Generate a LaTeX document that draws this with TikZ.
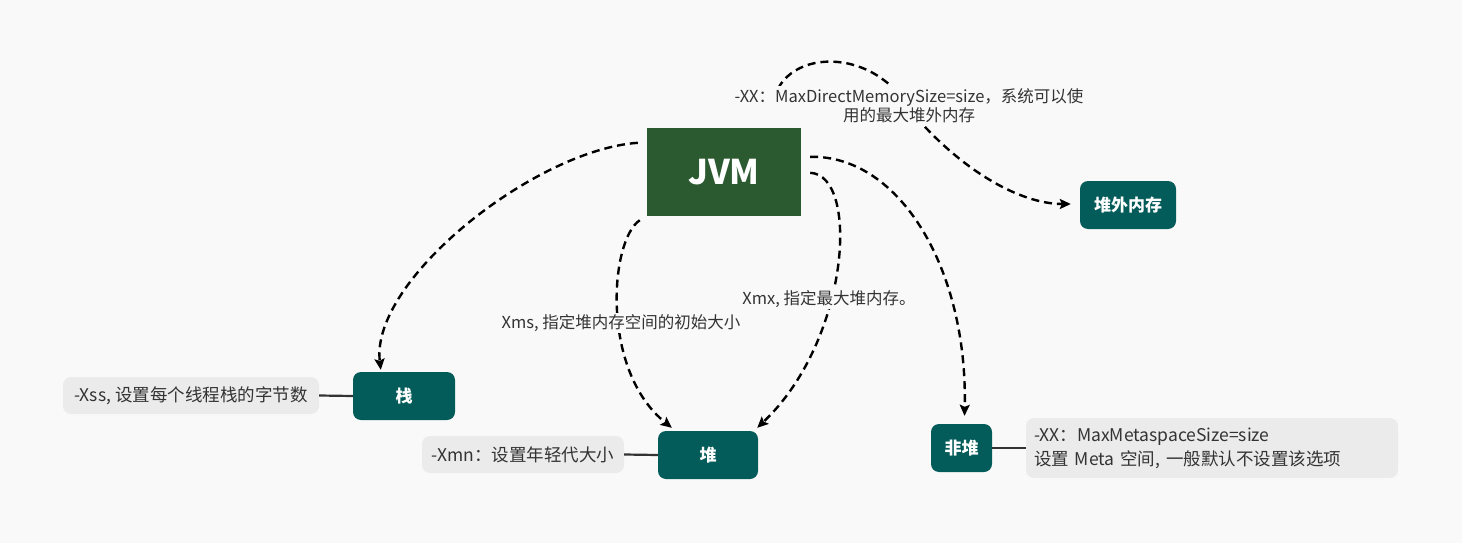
\documentclass[tikz,border=0pt]{standalone}
\usepackage{fontspec}
\setmainfont{Noto Sans CJK SC}
\usetikzlibrary{arrows.meta,calc}
\definecolor{bg}{HTML}{F9F9F9}
\definecolor{jvmgreen}{HTML}{2B5A30}
\definecolor{teal}{HTML}{035C5A}
\definecolor{notebg}{HTML}{EBEBEB}
\definecolor{txt}{HTML}{333333}
\tikzset{
  box/.style={fill=teal, rounded corners=8pt, text=white, font=\fontsize{17}{20}\selectfont\bfseries, inner sep=0pt, minimum height=48pt},
  note/.style={fill=notebg, rounded corners=8pt, text=txt, font=\fontsize{17.5}{24}\selectfont, inner sep=0pt, minimum height=37pt},
  edge/.style={draw=black, line width=2.4pt, dash pattern=on 8pt off 5pt, -{Stealth[length=11pt,width=10pt,inset=2pt]}},
  conn/.style={draw=txt, line width=2.2pt},
  elabel/.style={fill=bg, text=txt, font=\fontsize{16.5}{19}\selectfont, inner sep=1pt}
}
\begin{document}
\begin{tikzpicture}[x=1pt,y=-1pt]
\fill[bg] (0,0) rectangle (1462,543);
\useasboundingbox (0,0) rectangle (1462,543);

\node[fill=jvmgreen, minimum width=154pt, minimum height=88pt, inner sep=0pt, text=white, font=\fontsize{34}{36}\selectfont\bfseries] (jvm) at (724,172) {JVM};
\node[box, minimum width=96pt] (offheap) at (1128,205) {堆外内存};
\node[box, minimum width=102pt] (stack) at (404,396) {栈};
\node[box, minimum width=100pt] (heap) at (708,455) {堆};
\node[box, minimum width=61pt] (nonheap) at (961.5,448) {非堆};

\node[note, minimum width=256pt] (nxss) at (191,395.5) {-Xss, 设置每个线程栈的字节数};
\node[note, minimum width=202pt] (nxmn) at (523,454.5) {-Xmn：设置年轻代大小};
\node[note, minimum width=372pt, minimum height=60pt, text width=356pt, align=left] (nmeta) at (1212,448) {-XX：MaxMetaspaceSize=size\\设置 Meta 空间, 一般默认不设置该选项};

\draw[conn] (nxss.east) -- (stack.west);
\draw[conn] (nxmn.east) -- (heap.west);
\draw[conn] (nonheap.east) -- (nmeta.west);

% JVM -> stack
\draw[edge] ($(jvm.north west)+(-9,15)$) .. controls (535,150) and (370,280) .. ($(stack.north west)+(28,-2)$);
% JVM -> heap (Xms)
\draw[edge] ($(jvm.south west)+(-7,4)$) .. controls (610,240) and (600,370) .. ($(heap.north west)+(14,-3)$);
% JVM -> heap (Xmx)
\draw[edge] ($(jvm.north east)+(9,45)$) .. controls (860,175) and (850,340) .. ($(heap.north east)+(-1,-3)$);
% JVM -> nonheap
\draw[edge] ($(jvm.north east)+(9,29)$) .. controls (900,155) and (968,270) .. ($(nonheap.north)+(3,-8)$);
% JVM -> offheap
\draw[edge] ($(jvm.north west)+(126,-14)$) .. controls (770,50) and (870,40) .. (910,110) .. controls (960,170) and (1020,204) .. ($(offheap.west)+(-9,-1)$);

\node[elabel, align=center, inner ysep=3pt, inner xsep=2pt] (lblDirect) at (909,106) {-XX：MaxDirectMemorySize=size，系统可以使\\用的最大堆外内存};
\node[elabel] (lblXms) at (621,323) {Xms, 指定堆内存空间的初始大小};
\node[elabel] (lblXmx) at (829,299) {Xmx, 指定最大堆内存。};
\end{tikzpicture}
\end{document}
